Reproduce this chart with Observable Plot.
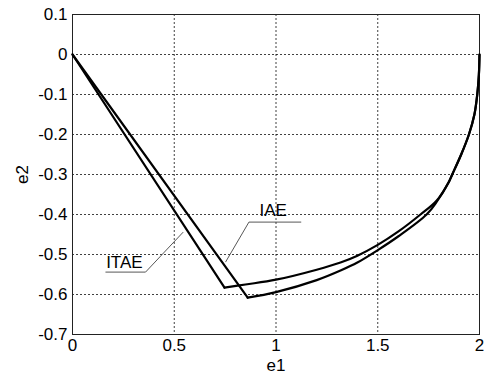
<!DOCTYPE html>
<html>
<head>
<meta charset="utf-8">
<script src="https://cdn.jsdelivr.net/npm/d3@7"></script>
<script src="https://cdn.jsdelivr.net/npm/@observablehq/plot@0.6"></script>
<style>
  html, body { margin: 0; padding: 0; background: #fff; }
  #chart svg { display: block; }
</style>
</head>
<body>
<div id="chart"></div>
<script>
// ITAE trajectory (e1, e2); index 1 is the corner
const itaeX = [0, 0.747, 0.85, 1.0, 1.2, 1.317, 1.4, 1.5, 1.6, 1.71, 1.79, 1.85, 1.866, 1.91, 1.948, 1.975, 1.989, 1.997, 2.0];
const itaeY = [0, -0.583, -0.575, -0.563, -0.538, -0.520, -0.503, -0.476, -0.443, -0.400, -0.365, -0.318, -0.300, -0.250, -0.200, -0.150, -0.100, -0.050, 0];
// IAE trajectory (e1, e2); index 1 is the corner
const iaeX = [0, 0.861, 1.0, 1.2, 1.317, 1.4, 1.5, 1.6, 1.74, 1.79, 1.85, 1.866, 1.91, 1.948, 1.975, 1.989, 1.997, 2.0];
const iaeY = [0, -0.608, -0.594, -0.564, -0.540, -0.520, -0.489, -0.455, -0.400, -0.368, -0.318, -0.300, -0.250, -0.200, -0.150, -0.100, -0.050, 0];

const xTicks = [0, 0.5, 1, 1.5, 2];
const yTicks = [-0.7, -0.6, -0.5, -0.4, -0.3, -0.2, -0.1, 0, 0.1];

// annotation labels: text position, underline ends, leader end (data coords)
const labelNames = ["ITAE", "IAE"];
const labelTextX = [0.255, 0.986];
const labelTextY = [-0.519, -0.390];
const underlineX1 = [0.162, 0.867];
const underlineX2 = [0.359, 1.124];
const underlineY = [-0.544, -0.419];
const leaderEndX = [0.544, 0.752];
const leaderEndY = [-0.444, -0.519];

const toPts = (xs, ys) => xs.map((x, i) => ({x, y: ys[i]}));
const itae = toPts(itaeX, itaeY);
const iae = toPts(iaeX, iaeY);
const labels = labelNames.map((name, i) => ({
  name, tx: labelTextX[i], ty: labelTextY[i],
  ux1: underlineX1[i], ux2: underlineX2[i], uy: underlineY[i],
  lx: leaderEndX[i], ly: leaderEndY[i]
}));
const underlines = labels.map(d => ({x1: d.ux1, x2: d.ux2, y: d.uy}));
const leaders = labels.map((d, i) => ({
  x1: i === 0 ? d.ux2 : d.ux1, y1: d.uy, x2: d.lx, y2: d.ly
}));

const fmt = d => Math.abs(d) < 1e-9 ? "0" : (Number.isInteger(d) ? String(d) : d.toFixed(1));
const lineStyle = {x: "x", y: "y", stroke: "#000", strokeWidth: 2.2, strokeLinejoin: "round", strokeLinecap: "round"};

const chart = Plot.plot({
  width: 485,
  height: 374,
  marginLeft: 72,
  marginRight: 6,
  marginTop: 14,
  marginBottom: 40,
  style: {fontFamily: "Liberation Sans, Arial, sans-serif", fontSize: "17px", color: "#000", background: "#fff"},
  x: {domain: [0, 2]},
  y: {domain: [-0.7, 0.1]},
  marks: [
    Plot.gridX(xTicks, {stroke: "#000", strokeOpacity: 0.75, strokeDasharray: "2,2"}),
    Plot.gridY(yTicks, {stroke: "#000", strokeOpacity: 0.75, strokeDasharray: "2,2"}),
    Plot.frame({stroke: "#222", strokeWidth: 1}),
    Plot.axisX(xTicks, {tickSize: 0, tickPadding: 4, tickFormat: fmt, fontSize: 17,
      label: "e1", labelAnchor: "center", labelArrow: "none", labelOffset: 36}),
    Plot.axisY(yTicks, {tickSize: 0, tickPadding: 5, tickFormat: fmt, fontSize: 17,
      label: "e2", labelAnchor: "center", labelArrow: "none", labelOffset: 57}),
    Plot.link(underlines, {x1: "x1", x2: "x2", y1: "y", y2: "y", stroke: "#444", strokeWidth: 0.9}),
    Plot.link(leaders, {x1: "x1", y1: "y1", x2: "x2", y2: "y2", stroke: "#444", strokeWidth: 0.9}),
    Plot.text(labels, {x: "tx", y: "ty", text: "name", fontSize: 17, fill: "#000"}),
    Plot.line(itae.slice(0, 2), lineStyle),
    Plot.line(itae.slice(1), {...lineStyle, curve: "catmull-rom"}),
    Plot.line(iae.slice(0, 2), lineStyle),
    Plot.line(iae.slice(1), {...lineStyle, curve: "catmull-rom"})
  ]
});
document.getElementById("chart").appendChild(chart);
</script>
</body>
</html>
